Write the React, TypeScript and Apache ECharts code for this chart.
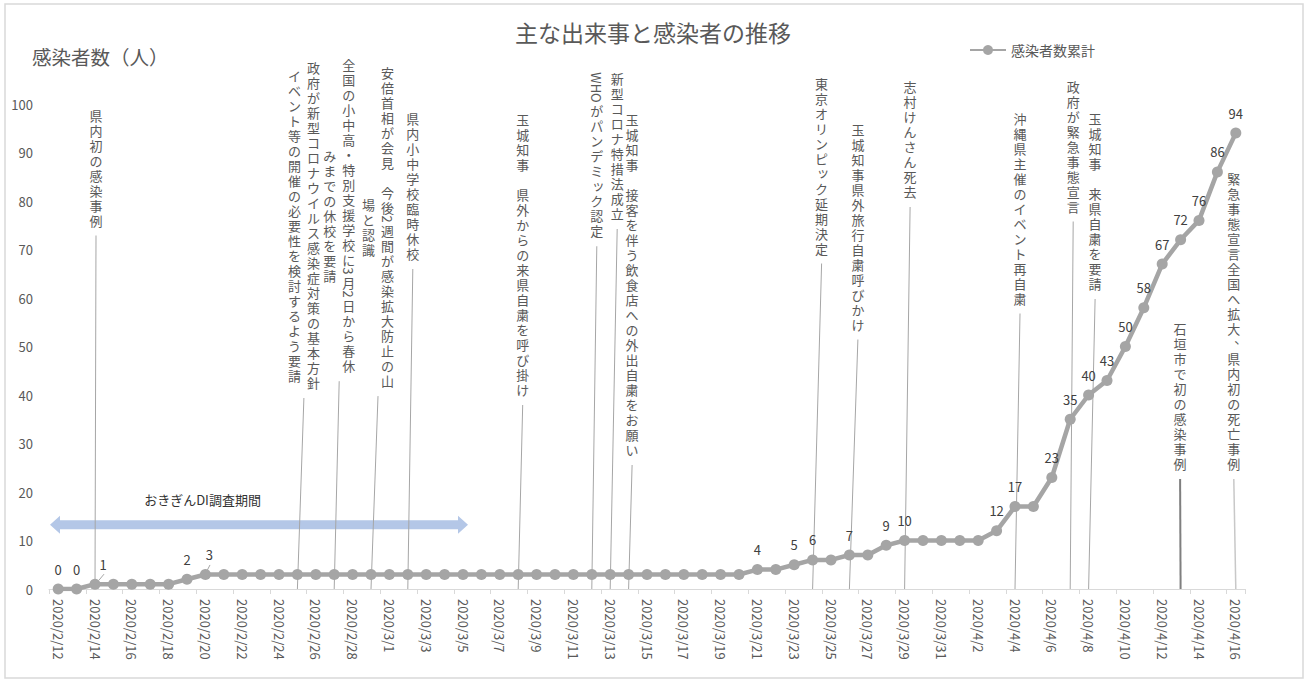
import React, { useEffect, useRef } from "react";
import * as echarts from "echarts";

const FONT = "'Noto Sans CJK JP', 'Noto Sans', sans-serif";
const FONT_NAME = "Noto Sans CJK JP";

// ---------- data ----------
const dates = [
  "2020/2/12", "2020/2/13", "2020/2/14", "2020/2/15", "2020/2/16", "2020/2/17", "2020/2/18",
  "2020/2/19", "2020/2/20", "2020/2/21", "2020/2/22", "2020/2/23", "2020/2/24", "2020/2/25",
  "2020/2/26", "2020/2/27", "2020/2/28", "2020/2/29",
  "2020/3/1", "2020/3/2", "2020/3/3", "2020/3/4", "2020/3/5", "2020/3/6", "2020/3/7",
  "2020/3/8", "2020/3/9", "2020/3/10", "2020/3/11", "2020/3/12", "2020/3/13", "2020/3/14",
  "2020/3/15", "2020/3/16", "2020/3/17", "2020/3/18", "2020/3/19", "2020/3/20", "2020/3/21",
  "2020/3/22", "2020/3/23", "2020/3/24", "2020/3/25", "2020/3/26", "2020/3/27", "2020/3/28",
  "2020/3/29", "2020/3/30", "2020/3/31",
  "2020/4/1", "2020/4/2", "2020/4/3", "2020/4/4", "2020/4/5", "2020/4/6", "2020/4/7",
  "2020/4/8", "2020/4/9", "2020/4/10", "2020/4/11", "2020/4/12", "2020/4/13", "2020/4/14",
  "2020/4/15", "2020/4/16",
];

const cumulative = [
  0, 0, 1, 1, 1, 1, 1,
  2, 3, 3, 3, 3, 3, 3,
  3, 3, 3, 3,
  3, 3, 3, 3, 3, 3, 3,
  3, 3, 3, 3, 3, 3, 3,
  3, 3, 3, 3, 3, 3, 4,
  4, 5, 6, 6, 7, 7, 9,
  10, 10, 10,
  10, 10, 12, 17, 17, 23, 35,
  40, 43, 50, 58, 67, 72, 76,
  86, 94,
];

const labeledDates = [
  "2020/2/12", "2020/2/13", "2020/2/14", "2020/2/19", "2020/2/20", "2020/3/21", "2020/3/23",
  "2020/3/24", "2020/3/26", "2020/3/28", "2020/3/29", "2020/4/3", "2020/4/4", "2020/4/6",
  "2020/4/7", "2020/4/8", "2020/4/9", "2020/4/10", "2020/4/11", "2020/4/12", "2020/4/13",
  "2020/4/14", "2020/4/15", "2020/4/16",
];

const seriesName = "感染者数累計";
const chartTitle = "主な出来事と感染者の推移";
const yAxisTitle = "感染者数（人）";
const periodText = "おきぎんDI調査期間";

const eventDates = [
  "2020/2/14", "2020/2/25", "2020/2/27", "2020/2/29", "2020/3/2", "2020/3/8", "2020/3/12",
  "2020/3/13", "2020/3/14", "2020/3/24", "2020/3/26", "2020/3/29", "2020/4/4", "2020/4/7",
  "2020/4/8", "2020/4/13", "2020/4/16",
];

const eventTexts: string[][] = [
  ["県内初の感染事例"],
  ["政府が新型コロナウイルス感染症対策の基本方針", "イベント等の開催の必要性を検討するよう要請"],
  ["全国の小中高・特別支援学校に3月2日から春休", "みまでの休校を要請"],
  ["安倍首相が会見　今後2週間が感染拡大防止の山", "場と認識"],
  ["県内小中学校臨時休校"],
  ["玉城知事　県外からの来県自粛を呼び掛け"],
  ["WHOがパンデミック認定"],
  ["新型コロナ特措法成立"],
  ["玉城知事　接客を伴う飲食店への外出自粛をお願い"],
  ["東京オリンピック延期決定"],
  ["玉城知事県外旅行自粛呼びかけ"],
  ["志村けんさん死去"],
  ["沖縄県主催のイベント再自粛"],
  ["政府が緊急事態宣言"],
  ["玉城知事　来県自粛を要請"],
  ["石垣市で初の感染事例"],
  ["緊急事態宣言全国へ拡大、県内初の死亡事例"],
];

// ---------- layout (pixels) ----------
const eventShiftX = [1, 6.5, 5, 7, 5, 4.5, 5, 7, 3.5, 9, 8.5, 5.5, 5, 3, 6.5, -0.5, -2];
const eventCenterY = [167.5, 225, 215, 226.5, 186, 254.5, 155, 146, 284.5, 165.5, 226.5, 139, 208, 146, 201, 396, 321];
const eventLineStyle: Record<string, { color: string; width: number }> = {
  "2020/4/13": { color: "#7f7f7f", width: 2 },
  "2020/4/16": { color: "#c8c8c8", width: 1.5 },
};
const labelOffsets: Record<string, number[]> = {
  "2020/2/14": [8, 0],
  "2020/2/20": [4, 0],
};

const TEXT_GRAY = "#595959";
const PITCH = 15;
const COL_GAP = 19;
const ANN_FONT_SIZE = 13;

export default function App() {
  const ref = useRef<HTMLDivElement>(null);

  useEffect(() => {
    const chart = echarts.init(ref.current!, null, { renderer: "svg" });

    const seriesData = cumulative.map((v, i) => {
      const d = dates[i];
      if (!labeledDates.includes(d)) return v;
      const lab: any = { show: true };
      if (labelOffsets[d]) lab.offset = labelOffsets[d];
      return { value: v, label: lab };
    });

    chart.setOption({
      animation: false,
      textStyle: { fontFamily: FONT },
      title: {
        text: chartTitle,
        left: "center",
        top: 15,
        textStyle: { fontSize: 23, fontWeight: "normal", color: TEXT_GRAY, fontFamily: FONT },
      },
      legend: {
        data: [seriesName],
        left: 964,
        top: 38,
        itemWidth: 36,
        itemHeight: 12.5,
        itemGap: 4,
        textStyle: { fontSize: 14, color: TEXT_GRAY, fontFamily: FONT },
      },
      grid: { left: 49, right: 61, top: 104, bottom: 97, containLabel: false, outerBoundsMode: "none" },
      xAxis: {
        type: "category",
        data: dates,
        boundaryGap: true,
        axisLine: { lineStyle: { color: "#d9d9d9", width: 1 } },
        axisTick: { show: true, interval: 1, length: 5, lineStyle: { color: "#d9d9d9" } },
        axisLabel: { interval: 1, rotate: -90, margin: 10, fontSize: 13, color: TEXT_GRAY, fontFamily: FONT },
      },
      yAxis: {
        type: "value",
        min: 0,
        max: 100,
        interval: 10,
        axisLine: { show: false },
        axisTick: { show: false },
        splitLine: { show: false },
        axisLabel: { fontSize: 13, color: TEXT_GRAY, margin: 16, fontFamily: FONT },
      },
      series: [
        {
          name: seriesName,
          type: "line",
          data: seriesData,
          symbol: "circle",
          symbolSize: 11,
          lineStyle: { width: 4.5, color: "#a5a5a5" },
          itemStyle: { color: "#a5a5a5" },
          label: { show: false, position: "top", distance: 8, fontSize: 13, color: "#404040", fontFamily: FONT },
          z: 3,
        },
      ],
    });

    const ctx = document.createElement("canvas").getContext("2d")!;
    ctx.font = `${ANN_FONT_SIZE}px ${FONT}`;
    const px = (i: number, v: number) =>
      chart.convertToPixel({ xAxisIndex: 0, yAxisIndex: 0 }, [i, v]) as number[];
    const axisY = px(0, 0)[1];

    const txtStyle = (text: string, size: number, fill: string, extra: any = {}) => ({
      text,
      fill,
      fontSize: size,
      fontFamily: FONT_NAME,
      align: "center",
      verticalAlign: "middle",
      ...extra,
    });

    const elements: any[] = [];
    // chart border
    elements.push({
      type: "rect",
      shape: { x: 5, y: 4, width: 1298, height: 674 },
      style: { fill: "none", stroke: "#d9d9d9", lineWidth: 1.5 },
      z: 0,
    });
    // y axis title
    elements.push({
      type: "text",
      x: 32,
      y: 56,
      style: txtStyle(yAxisTitle, 19.5, TEXT_GRAY, { align: "left" }),
    });
    // period arrow
    const ay = 524.8, ax0 = 50, ax1 = 468, sh = 4.5, hh = 9, hl = 10;
    elements.push({
      type: "polygon",
      shape: {
        points: [
          [ax0, ay], [ax0 + hl, ay - hh], [ax0 + hl, ay - sh], [ax1 - hl, ay - sh], [ax1 - hl, ay - hh],
          [ax1, ay], [ax1 - hl, ay + hh], [ax1 - hl, ay + sh], [ax0 + hl, ay + sh], [ax0 + hl, ay + hh],
        ],
      },
      style: { fill: "#b4c7e7" },
      z: 1,
    });
    elements.push({
      type: "text",
      x: 202.5,
      y: 499,
      style: txtStyle(periodText, 13, "#333333"),
    });

    // small label leader lines
    const i1 = dates.indexOf("2020/2/14");
    const p1 = px(i1, cumulative[i1]);
    elements.push({
      type: "line",
      shape: { x1: p1[0] + 4, y1: p1[1] - 4, x2: p1[0] + 9, y2: p1[1] - 10 },
      style: { stroke: "#a6a6a6", lineWidth: 1 },
    });
    const i3 = dates.indexOf("2020/2/20");
    const p3 = px(i3, cumulative[i3]);
    elements.push({
      type: "line",
      shape: { x1: p3[0] + 2, y1: p3[1] - 4.5, x2: p3[0] + 4.6, y2: p3[1] - 9.5 },
      style: { stroke: "#a6a6a6", lineWidth: 1 },
    });

    const splitSegs = (col: string) => {
      const parts = col.match(/[A-Za-z0-9]+|./gu) || [];
      return parts.map((t) =>
        /^[A-Za-z0-9]+$/.test(t)
          ? { t, rot: true, h: ctx.measureText(t).width + 1 }
          : { t, rot: false, h: PITCH }
      );
    };

    eventDates.forEach((d, k) => {
      const idx = dates.indexOf(d);
      const base = px(idx, 0);
      const bx = base[0] + eventShiftX[k];
      const cy = eventCenterY[k];
      const cols = eventTexts[k];
      const n = cols.length;
      let maxBottom = 0;
      cols.forEach((col, c) => {
        const cx = bx + ((n - 1) / 2) * COL_GAP - c * COL_GAP;
        const segs = splitSegs(col);
        const total = segs.reduce((s, g) => s + g.h, 0);
        let y = cy - total / 2;
        maxBottom = Math.max(maxBottom, cy + total / 2);
        segs.forEach((s) => {
          if (s.rot) {
            elements.push({
              type: "text",
              x: cx,
              y: y + s.h / 2,
              rotation: -Math.PI / 2,
              style: txtStyle(s.t, ANN_FONT_SIZE, TEXT_GRAY, { lineHeight: 12 }),
            });
          } else {
            let dx = 0, dy = 0;
            if (s.t === "、" || s.t === "。") { dx = 7; dy = -6; }
            if ("ッャュョァィゥェォっゃゅょ".includes(s.t)) { dx = 1.5; dy = -1.5; }
            elements.push({
              type: "text",
              x: cx + dx,
              y: y + PITCH / 2 + dy,
              style: txtStyle(s.t, ANN_FONT_SIZE, TEXT_GRAY, { lineHeight: 14 }),
            });
          }
          y += s.h;
        });
      });
      const ls = eventLineStyle[d] || { color: "#a6a6a6", width: 1 };
      elements.push({
        type: "line",
        shape: { x1: bx, y1: maxBottom + 8, x2: base[0], y2: axisY },
        style: { stroke: ls.color, lineWidth: ls.width },
        z: 1,
      });
    });

    chart.setOption({ graphic: { elements } });

    return () => chart.dispose();
  }, []);

  return (
    <div
      ref={ref}
      style={{ position: "absolute", left: 0, top: 0, width: 1306, height: 686 }}
    />
  );
}
